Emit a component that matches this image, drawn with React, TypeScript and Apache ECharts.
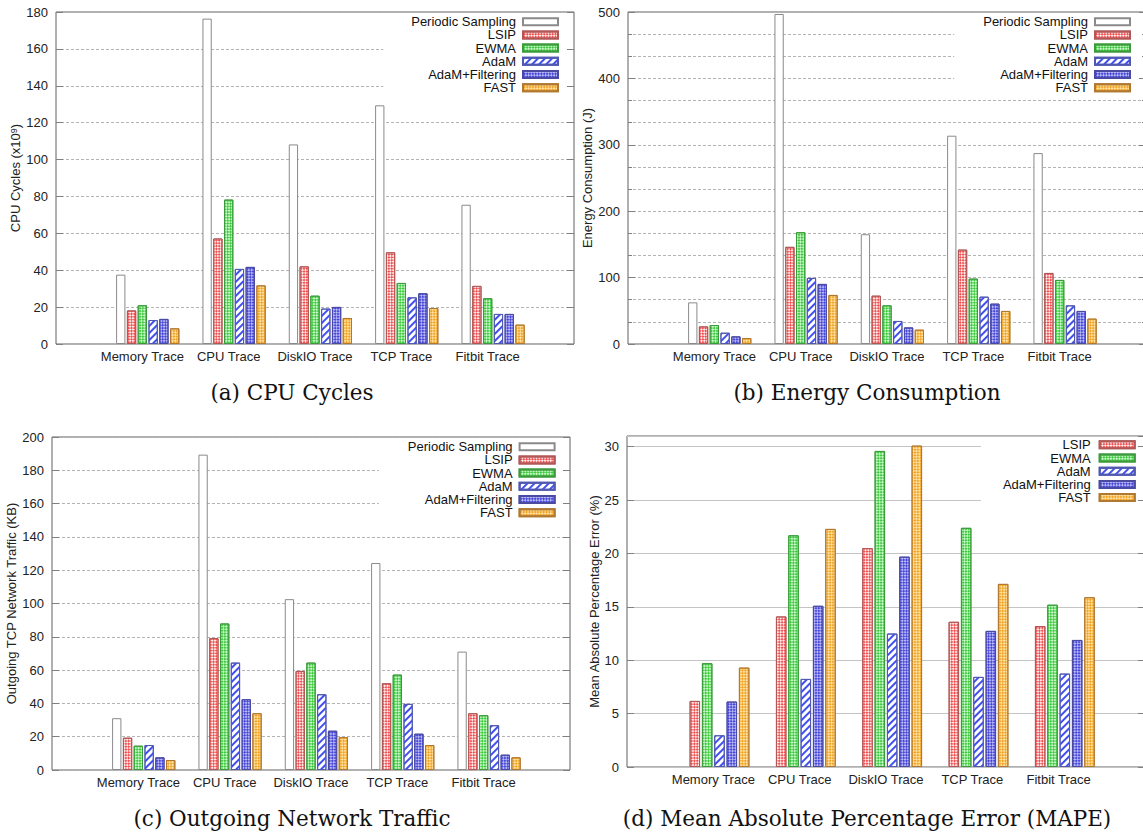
import React, { useEffect, useRef } from 'react';
import * as echarts from 'echarts';

const categories = ['Memory Trace', 'CPU Trace', 'DiskIO Trace', 'TCP Trace', 'Fitbit Trace'];
const methods = ['Periodic Sampling', 'LSIP', 'EWMA', 'AdaM', 'AdaM+Filtering', 'FAST'];
const mapeMethods = ['LSIP', 'EWMA', 'AdaM', 'AdaM+Filtering', 'FAST'];

// (a) CPU Cycles (x10^9)
const cpuPeriodic = [37.6, 176.4, 108.2, 129.4, 75.5];
const cpuLSIP = [18.2, 57.2, 42.1, 49.7, 31.5];
const cpuEWMA = [21.0, 78.3, 26.2, 33.1, 24.8];
const cpuAdaM = [13.0, 40.7, 19.2, 25.3, 16.3];
const cpuAdaMF = [13.6, 41.8, 20.1, 27.5, 16.3];
const cpuFAST = [8.5, 31.8, 14.1, 19.5, 10.5];

// (b) Energy Consumption (J)
const enPeriodic = [62.7, 497, 165.3, 313.7, 287.5];
const enLSIP = [26.5, 146.3, 72.8, 142.2, 107];
const enEWMA = [28.6, 168.3, 58.2, 98.5, 96.5];
const enAdaM = [17, 99.5, 34.7, 71.3, 58.2];
const enAdaMF = [11.5, 90.5, 25, 60.8, 49.8];
const enFAST = [9, 73.9, 21.6, 49.8, 38.2];

// (c) Outgoing TCP Network Traffic (KB)
const netPeriodic = [31.1, 189.4, 102.6, 124.3, 71.1];
const netLSIP = [19.4, 79.2, 59.5, 52.1, 34.1];
const netEWMA = [14.6, 88, 64.5, 57.3, 32.9];
const netAdaM = [15, 64.5, 45.5, 39.7, 26.9];
const netAdaMF = [7.6, 42.5, 23.6, 21.8, 9.2];
const netFAST = [6.0, 34.1, 19.7, 15, 7.6];

// (d) MAPE (%)
const mapeLSIP = [6.19, 14.1, 20.5, 13.6, 13.2];
const mapeEWMA = [9.72, 21.7, 29.6, 22.4, 15.2];
const mapeAdaM = [2.97, 8.25, 12.5, 8.44, 8.75];
const mapeAdaMF = [6.13, 15.1, 19.7, 12.75, 11.9];
const mapeFAST = [9.31, 22.3, 30.1, 17.15, 15.9];

const yTicksA = { min: 0, max: 180, interval: 20 };
const yTicksB = { min: 0, max: 500, interval: 100 };
const yTicksC = { min: 0, max: 200, interval: 20 };
const yTicksD = { min: 0, max: 31, interval: 5 };

const captions = ['(a) CPU Cycles', '(b) Energy Consumption', '(c) Outgoing Network Traffic', '(d) Mean Absolute Percentage Error (MAPE)'];

const SANS = 'Liberation Sans, Arial, sans-serif';
const SERIF = 'DejaVu Serif, serif';

const checker = (color: string, s: number) => ({
  symbol: 'rect',
  symbolSize: 1,
  color,
  dashArrayX: [[s, s], [0, s, s, 0]],
  dashArrayY: [s, 0],
  rotation: Math.PI / 4,
});
const stripes = (color: string) => ({
  symbol: 'rect',
  symbolSize: 1,
  color,
  dashArrayX: [1, 0],
  dashArrayY: [1.4, 2.4],
  rotation: -Math.PI / 4,
});

const styles: Record<string, any> = {
  'Periodic Sampling': { color: '#ffffff', borderColor: '#8a8a8a', borderWidth: 1 },
  LSIP: { color: '#ffeaea', borderColor: '#b05858', borderWidth: 1, decal: checker('#f25050', 2) },
  EWMA: { color: '#c6f7c6', borderColor: '#3c9a3c', borderWidth: 1, decal: checker('#40c840', 1.5) },
  AdaM: { color: '#ffffff', borderColor: '#5058b0', borderWidth: 1, decal: stripes('#4050ee') },
  'AdaM+Filtering': { color: '#b8b8f6', borderColor: '#4a4aa0', borderWidth: 1, decal: checker('#4646d8', 1.5) },
  FAST: { color: '#ffe0a0', borderColor: '#b07830', borderWidth: 1, decal: checker('#f0a428', 2) },
};

export default function App() {
  const ref = useRef<HTMLDivElement>(null);
  useEffect(() => {
    if (!ref.current) return;
    const chart = echarts.init(ref.current, undefined, { renderer: 'svg' });

    const cats = ['', ...categories, ''];
    const wrap = (arr: number[]) => [null, ...arr, null];

    const grids = [
      { left: 56, top: 12, width: 518, height: 332 },
      { left: 628, top: 12, width: 518, height: 332 },
      { left: 52, top: 437, width: 518, height: 333 },
      { left: 627, top: 436, width: 518, height: 331 },
    ];
    const yDefs = [yTicksA, yTicksB, yTicksC, yTicksD];
    const yNames = ['CPU Cycles (x10{sup|9})', 'Energy Consumption (J)', 'Outgoing TCP Network Traffic (KB)', 'Mean Absolute Percentage Error (%)'];
    const nameGaps = [29, 32, 33, 25];
    const panelData: { names: string[]; values: number[][] }[] = [
      { names: methods, values: [cpuPeriodic, cpuLSIP, cpuEWMA, cpuAdaM, cpuAdaMF, cpuFAST] },
      { names: methods, values: [enPeriodic, enLSIP, enEWMA, enAdaM, enAdaMF, enFAST] },
      { names: methods, values: [netPeriodic, netLSIP, netEWMA, netAdaM, netAdaMF, netFAST] },
      { names: mapeMethods, values: [mapeLSIP, mapeEWMA, mapeAdaM, mapeAdaMF, mapeFAST] },
    ];
    const barW = [9.3, 9.3, 9.3, 10.5];
    const barGap = ['16%', '16%', '16%', '17.4%'];

    const gridLine = (i: number) =>
      i === 3
        ? { show: true, lineStyle: { color: '#c4c4c4', width: 1, type: 'solid' } }
        : { show: true, lineStyle: { color: '#b4b4b4', width: 1, type: [3, 2] } };

    const xAxis: any[] = [];
    const yAxis: any[] = [];
    const series: any[] = [];

    grids.forEach((g, i) => {
      xAxis.push({
        type: 'category',
        gridIndex: i,
        data: cats,
        boundaryGap: false,
        axisLine: { show: false },
        axisTick: { show: false },
        splitLine: { show: false },
        axisLabel: { interval: 0, margin: 6, fontSize: 13, color: '#222', fontFamily: SANS },
      });
      const yd = yDefs[i];
      yAxis.push({
        type: 'value',
        gridIndex: i,
        position: 'left',
        min: yd.min,
        max: yd.max,
        interval: yd.interval,
        name: yNames[i],
        nameLocation: 'middle',
        nameRotate: 90,
        nameGap: nameGaps[i],
        nameTextStyle: {
          fontSize: 13,
          color: '#222',
          fontFamily: SANS,
          rich: { sup: { fontSize: 9, fontFamily: SANS, color: '#222', verticalAlign: 'top', lineHeight: 9 } },
        },
        axisLine: { show: false },
        axisTick: { show: true, inside: true, length: 7, lineStyle: { color: '#808080' } },
        minorTick: i === 1 ? { show: true, splitNumber: 3, length: 4, lineStyle: { color: '#808080' } } : { show: false },
        minorSplitLine: i === 1 ? { show: true, lineStyle: { color: '#b4b4b4', width: 1, type: [3, 2] } } : { show: false },
        splitLine: gridLine(i),
        axisLabel: { margin: 8, fontSize: 13, color: '#222', fontFamily: SANS, showMaxLabel: i !== 3 },
      });
      yAxis.push({
        type: 'value',
        gridIndex: i,
        position: 'right',
        min: yd.min,
        max: yd.max,
        interval: yd.interval,
        z: 10,
        axisLine: { show: false },
        axisLabel: { show: false },
        splitLine: { show: false },
        axisTick: { show: true, inside: true, length: 7, lineStyle: { color: '#808080' } },
        minorTick: i === 1 ? { show: true, splitNumber: 3, length: 4, lineStyle: { color: '#808080' } } : { show: false },
      });

      // empty leading slot so each cluster sits half a bar to the right of its label, as in the original
      series.push({
        type: 'bar',
        name: '_pad' + i,
        xAxisIndex: i,
        yAxisIndex: i * 2,
        data: [],
        barWidth: barW[i],
        barGap: barGap[i],
        silent: true,
      });
      const pd = panelData[i];
      pd.names.forEach((n, k) => {
        series.push({
          type: 'bar',
          name: n,
          xAxisIndex: i,
          yAxisIndex: i * 2,
          data: wrap(pd.values[k]),
          barWidth: barW[i],
          barGap: barGap[i],
          itemStyle: styles[n],
          silent: true,
        });
      });
    });

    const legendBase = {
      orient: 'vertical',
      align: 'right',
      itemWidth: 35,
      itemHeight: 7,
      itemGap: 0.2,
      icon: 'rect',
      backgroundColor: '#ffffff',
      selectedMode: false,
      textStyle: { fontFamily: SANS, fontSize: 13, color: '#111', lineHeight: 13, padding: [0, 2, 0, 0] },
    };
    const legend = [
      { ...legendBase, right: 570, top: 13, padding: [2.2, 14, 3, 28], data: methods },
      { ...legendBase, right: -3, top: 13, padding: [2.2, 15, 3, 29], data: methods },
      { ...legendBase, right: 574, top: 438, padding: [2.2, 13.4, 3, 29], data: methods },
      {
        ...legendBase,
        right: -2,
        top: 437,
        padding: [1.3, 9.3, 3, 22],
        data: mapeMethods,
        textStyle: { ...legendBase.textStyle, padding: [0, 4, 0, 0] },
      },
    ];

    const capPos = [
      [292, 392],
      [867, 392],
      [292, 818],
      [867, 818],
    ];
    const graphic = captions.map((t, i) => ({
      type: 'text',
      x: capPos[i][0],
      y: capPos[i][1],
      silent: true,
      style: {
        text: t,
        textAlign: 'center',
        textVerticalAlign: 'middle',
        fontFamily: SERIF,
        fontSize: 21.5,
        fill: '#111',
      },
    }));

    chart.setOption({
      animation: false,
      backgroundColor: '#ffffff',
      grid: grids.map((g) => ({
        ...g,
        outerBoundsMode: 'none',
        containLabel: false,
        show: true,
        borderColor: '#606060',
        borderWidth: 1,
        backgroundColor: 'transparent',
      })),
      xAxis,
      yAxis,
      series,
      legend,
      graphic,
    });
    return () => chart.dispose();
  }, []);
  return <div ref={ref} style={{ position: 'absolute', left: 0, top: 0, width: 1143, height: 834 }} />;
}
